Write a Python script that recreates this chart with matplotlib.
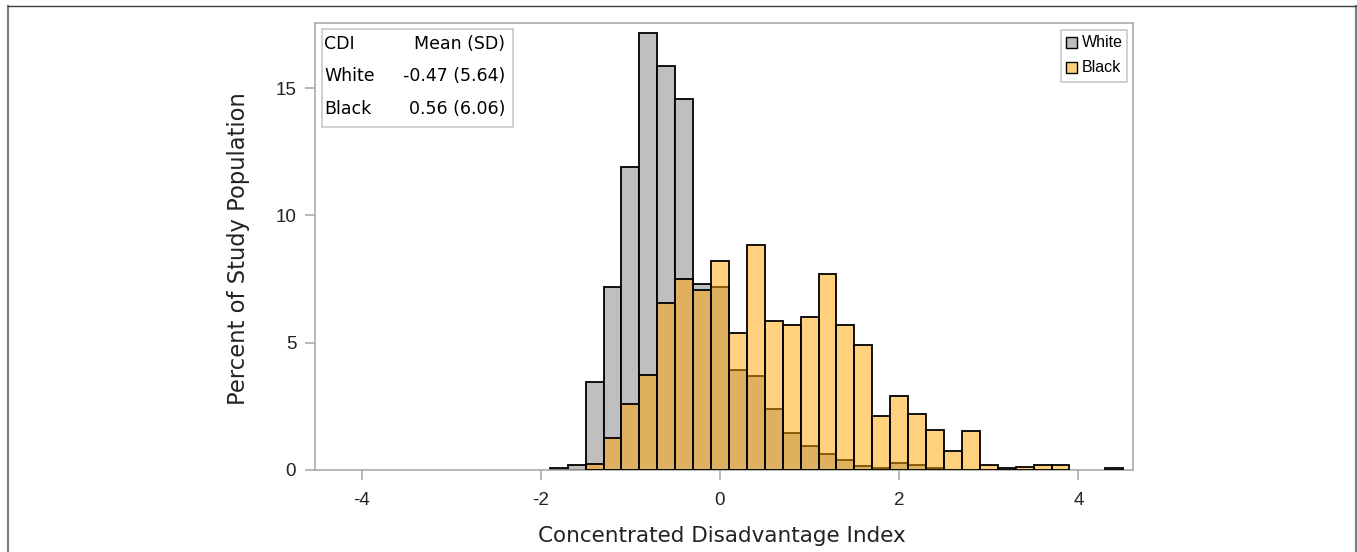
import matplotlib
matplotlib.use("Agg")
import matplotlib.pyplot as plt
from matplotlib.patches import Rectangle
from matplotlib.lines import Line2D

plt.rcParams['font.family'] = ['Liberation Sans', 'DejaVu Sans']

# bin centres (bin width 0.2) and percent of study population per group
centres = [-1.8, -1.6, -1.4, -1.2, -1.0, -0.8, -0.6, -0.4, -0.2, 0.0,
           0.2, 0.4, 0.6, 0.8, 1.0, 1.2, 1.4, 1.6, 1.8, 2.0,
           2.2, 2.4, 2.6, 2.8, 3.0, 3.2, 3.4, 3.6, 3.8, 4.0,
           4.2, 4.4]
white = [0.06, 0.2, 3.46, 7.2, 11.89, 17.18, 15.87, 14.58, 7.3, 7.2,
         3.93, 3.7, 2.39, 1.47, 0.95, 0.64, 0.41, 0.17, 0.09, 0.29,
         0.21, 0.08, 0, 0, 0, 0, 0, 0, 0, 0,
         0, 0]
black = [0, 0, 0.22, 1.24, 2.61, 3.75, 6.58, 7.52, 7.07, 8.22,
         5.37, 8.83, 5.85, 5.68, 6.0, 7.69, 5.68, 4.92, 2.11, 2.89,
         2.19, 1.59, 0.76, 1.52, 0.21, 0.09, 0.13, 0.21, 0.21, 0,
         0, 0.07]

table_rows = [("CDI", "Mean (SD)"), ("White", "-0.47 (5.64)"), ("Black", "0.56 (6.06)")]
groups = ["White", "Black"]

gray = "#bfbfbf"
orange = (1.0, 0.647, 0.0, 0.5)
axis_gray = "#a6a6a6"
wide = ['DejaVu Sans']

W, H = 1357, 552
fig = plt.figure(figsize=(W / 100, H / 100), dpi=100)
ax = fig.add_axes([315 / W, 1 - 470 / H, 817.7 / W, 446.7 / H])

def nonzero(xs, ys):
    pairs = [(x, y) for x, y in zip(xs, ys) if y > 0]
    return [p[0] for p in pairs], [p[1] for p in pairs]

xw, yw = nonzero(centres, white)
xb, yb = nonzero(centres, black)
ax.bar(xw, yw, width=0.2, facecolor=gray, edgecolor="black", linewidth=1.3, zorder=2)
ax.bar(xb, yb, width=0.2, facecolor=orange, edgecolor="black", linewidth=1.3, zorder=3)

ax.set_xlim(-4.52, 4.606)
ax.set_ylim(0, 17.55)
ax.set_xticks([-4, -2, 0, 2, 4])
ax.set_xticklabels(["-4", "-2", "0", "2", "4"])
ax.set_yticks([0, 5, 10, 15])
for s in ax.spines.values():
    s.set_color(axis_gray)
    s.set_linewidth(1.1)
ax.tick_params(axis="both", colors=axis_gray, length=7.5, width=1.1, labelsize=13.5, labelcolor="#222222")
ax.tick_params(axis="x", pad=8)
ax.tick_params(axis="y", pad=6)

ax.set_xlabel("Concentrated Disadvantage Index", fontsize=15.5, color="#222222", family=wide)
ax.set_ylabel("Percent of Study Population", fontsize=16.3, color="#222222", family=wide)
ax.xaxis.set_label_coords(0.4977, -0.125)
ax.yaxis.set_label_coords(-0.08, 0.495)

# inset stats table
ax.add_patch(Rectangle((0.0082, 0.767), 0.2336, 0.2196, transform=ax.transAxes,
                       facecolor="white", edgecolor="#c8c8c8", linewidth=1.2, zorder=5))
for (left, right), yy in zip(table_rows, [0.9537, 0.882, 0.808]):
    ax.text(0.011, yy, left, transform=ax.transAxes, ha="left", va="center", fontsize=12.5,
            family=wide, zorder=6)
    ax.text(0.2329, yy, right, transform=ax.transAxes, ha="right", va="center", fontsize=12.5,
            family=wide, zorder=6)

# legend
ax.add_patch(Rectangle((0.912, 0.8686), 0.081, 0.1164, transform=ax.transAxes,
                       facecolor="white", edgecolor="#c8c8c8", linewidth=1.2, zorder=5))
for name, fc, yy in zip(groups, [gray, orange], [0.956, 0.900]):
    ax.add_patch(Rectangle((0.918, yy - 0.0123), 0.0135, 0.0246, transform=ax.transAxes,
                           facecolor=fc, edgecolor="black", linewidth=1.0, zorder=6))
    ax.text(0.938, yy, name, transform=ax.transAxes, ha="left", va="center", fontsize=11.5, zorder=6)

# outer frame of the figure
fig.add_artist(Line2D([7.5 / W, 7.5 / W], [0, 1 - 6 / H], color="#808080", linewidth=1.6))
fig.add_artist(Line2D([1355.5 / W, 1355.5 / W], [0, 1 - 6 / H], color="#808080", linewidth=1.6))
fig.add_artist(Line2D([7.5 / W, 1355.5 / W], [1 - 6 / H, 1 - 6 / H], color="#404040", linewidth=1.0))

fig.savefig("out.png", dpi=100)
